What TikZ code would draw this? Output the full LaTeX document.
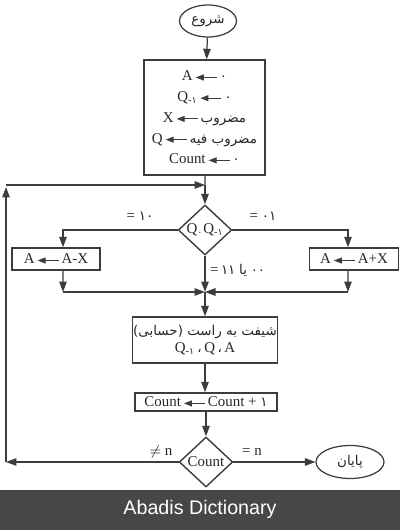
\documentclass[tikz,border=0pt]{standalone}
\usepackage{fontspec}
\setmainfont{Liberation Serif}
\newfontfamily\af[Script=Arabic,Scale=0.9]{DejaVu Sans}
\newfontfamily\bannerfont{Liberation Sans}
\TeXXeTstate=1
\usetikzlibrary{shapes.geometric,arrows.meta,calc}
\definecolor{linec}{HTML}{3C3C3C}
\definecolor{bannerc}{HTML}{474747}
\newcommand\larr{\,\tikz[baseline={(0,-0.5ex)}]\draw[draw=linec,line width=0.6pt,{Triangle[length=1.6mm,width=1.2mm]}-] (0,0) -- (0.42cm,0);\,}
\begin{document}
\begin{tikzpicture}[x=0.02cm,y=-0.02cm,
  every node/.style={font=\fontsize{8.5}{11.8}\selectfont, text=black!85},
  arr/.style={draw=linec, line width=0.7pt, -{Triangle[length=2.1mm,width=1.5mm]}},
  plainline/.style={draw=linec, line width=0.7pt},
  term/.style={ellipse, draw=linec, line width=0.7pt, inner sep=0pt},
  proc/.style={rectangle, draw=linec, line width=0.8pt, inner sep=0pt},
  dec/.style={diamond, draw=linec, line width=0.8pt, inner sep=0pt, minimum width=1.07cm, minimum height=1.0cm},
  lbl/.style={inner sep=1pt}]
\useasboundingbox (0,0) rectangle (400,530);

% nodes
\node[term, minimum width=1.14cm, minimum height=0.64cm] (start) at (208,21) {\af\beginR شروع\endR};
\node[proc, minimum width=2.42cm, minimum height=2.3cm, align=center] (init) at (204.5,117.5)
  {A\larr{\af ۰}\\
   Q\textsubscript{-{\af ۱}}\larr{\af ۰}\\
   X\larr{\af\beginR مضروب\endR}\\
   Q\larr{\af\beginR مضروب فیه\endR}\\
   Count\larr{\af ۰}};
\coordinate (j0) at (205,185);
\node[dec] (d1) at (205,230) {\makebox[0pt]{Q\textsubscript{\af ۰}Q\textsubscript{-{\af ۱}}}};
\node[proc, minimum width=1.76cm, minimum height=0.44cm] (bl) at (56,259) {A\larr A-X};
\node[proc, minimum width=1.78cm, minimum height=0.44cm] (br) at (354,259) {A\larr A+X};
\coordinate (jL) at (63,292);
\coordinate (jM) at (205,292);
\coordinate (jR) at (348,292);
\node[proc, minimum width=2.9cm, minimum height=0.92cm, align=center, font=\fontsize{8.5}{10}\selectfont] (shift) at (205,340)
  {{\af\beginR شیفت به راست (حسابی)\endR}\\
   Q\textsubscript{-{\af ۱}}\,{\af ،}\,Q\,{\af ،}\,A};
\node[proc, minimum width=2.84cm, minimum height=0.36cm] (cnt) at (206,402) {Count\larr Count + {\af ۱}};
\node[dec] (d2) at (206,462) {\makebox[0pt]{Count}};
\node[term, minimum width=1.36cm, minimum height=0.66cm] (end) at (350,462) {\af\beginR پایان\endR};
\coordinate (lb) at (6,462);
\coordinate (lt) at (6,187);

% labels
\node[lbl] (l10) at (140,216) {= {\af ۱۰}};
\node[lbl] (l01) at (263,216) {= {\af ۰۱}};
\node[lbl, anchor=west] (l00) at (208,270) {=\,{\af ۱۱} {\af\beginR یا\endR} {\af ۰۰}};
\node[lbl] (lne) at (161,452) {$\neq$ n};
\node[lbl] (leq) at (252,452) {= n};

% connectors
\draw[arr] (start) -- (init);
\draw[plainline] (init) -- (j0);
\draw[arr] (j0) -- (d1);
\draw[arr] (d1.west) -| ([xshift=0.14cm]bl.north);
\draw[arr] (d1.east) -| ([xshift=-0.12cm]br.north);
\draw[arr] ([xshift=0.14cm]bl.south) -- (jL);
\draw[arr] ([xshift=-0.12cm]br.south) -- (jR);
\draw[arr] (jL) -- (jM);
\draw[arr] (jR) -- (jM);
\draw[arr] (d1.south) -- (jM);
\draw[arr] (jM) -- (shift.north);
\draw[arr] (shift.south) -- (shift.south |- cnt.north);
\draw[arr] (cnt.south) -- (d2.north);
\draw[arr] (d2.east) -- (end.west);
\draw[arr] (d2.west) -- (lb);
\draw[arr] (lb) -- (lt);
\draw[arr] (lt |- j0) -- (j0);

% banner
\fill[bannerc] (0,490) rectangle (400,530);
\node[text=white, font=\bannerfont\fontsize{11.2}{13}\selectfont] (bn) at (200,509) {Abadis Dictionary};
\end{tikzpicture}
\end{document}
